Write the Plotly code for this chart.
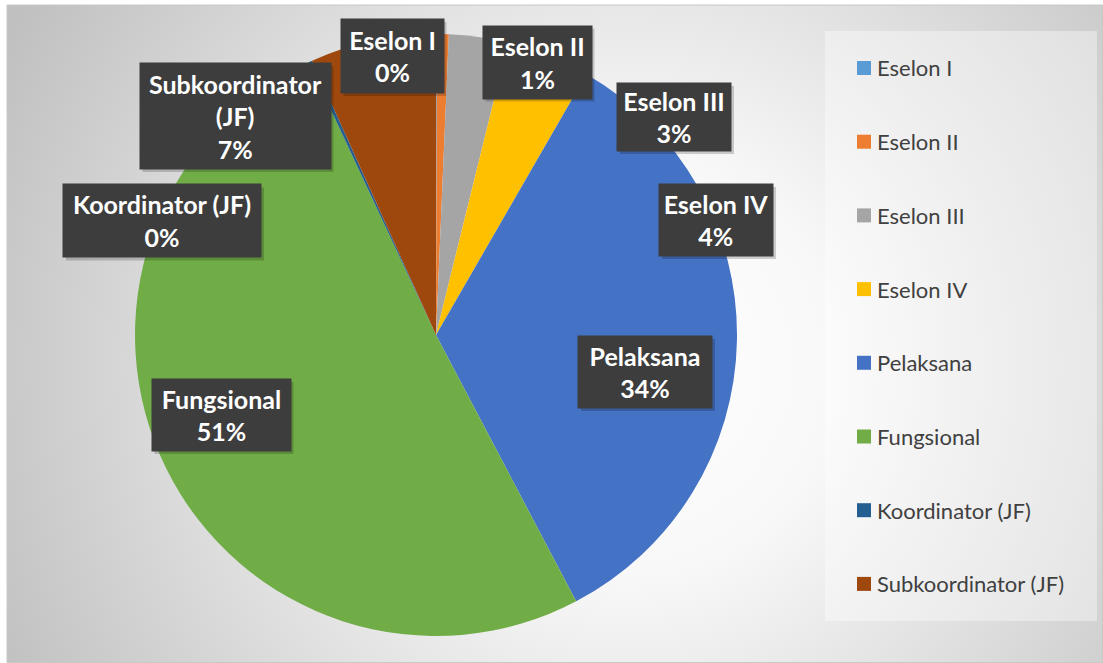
import base64
import plotly.graph_objects as go

# ---------------- data ----------------
categories = ["Eselon I", "Eselon II", "Eselon III", "Eselon IV",
              "Pelaksana", "Fungsional", "Koordinator (JF)", "Subkoordinator (JF)"]
values = [0.05, 0.63, 3.17, 4.48, 33.96, 50.76, 0.20, 6.75]
colors = ["#5B9BD5", "#ED7D31", "#A5A5A5", "#FFC000",
          "#4472C4", "#70AD47", "#255E91", "#9E480E"]

# ---------------- layout constants ----------------
W, H = 1103, 663
def px(x):
    return x / W
def py(y):
    return 1 - y / H

# data label boxes (pixel centres and sizes)
label_cx = [392, 537, 674, 716, 645, 221, 162, 235]
label_cy = [56, 62, 117, 220, 372, 415, 221, 116]
label_w = [103, 109, 114, 114, 134, 139, 198, 191]
label_h = [74, 73, 68, 72, 72, 72, 73, 106]
wrap = {"Subkoordinator (JF)": "Subkoordinator<br>(JF)"}

total = sum(values)

fig = go.Figure(go.Pie(
    labels=categories,
    values=values,
    marker=dict(colors=colors, line=dict(width=0)),
    sort=False,
    direction="clockwise",
    rotation=0,
    textinfo="none",
    showlegend=False,
    hoverinfo="label+percent",
    domain=dict(x=[px(135), px(737)], y=[py(637), py(33)]),
))

# background gradient as svg image
svg = ('<svg xmlns="http://www.w3.org/2000/svg" width="1096" height="658">'
       '<defs><radialGradient id="g" gradientUnits="userSpaceOnUse" cx="620" cy="360" r="700">'
       '<stop offset="0" stop-color="#ffffff"/>'
       '<stop offset="0.3" stop-color="#f8f8f8"/>'
       '<stop offset="1" stop-color="#c0c0c0"/>'
       '</radialGradient></defs>'
       '<rect width="1096" height="658" fill="url(#g)"/></svg>')
src = "data:image/svg+xml;base64," + base64.b64encode(svg.encode()).decode()

shapes = []
annotations = []

# outer border
shapes.append(dict(type="rect", xref="paper", yref="paper",
                   x0=px(7), x1=px(1102.5), y0=py(662.5), y1=py(5),
                   line=dict(color="#c8c8c8", width=1), fillcolor="rgba(0,0,0,0)",
                   layer="below"))
# legend box
shapes.append(dict(type="rect", xref="paper", yref="paper",
                   x0=px(825), x1=px(1097), y0=py(621), y1=py(31),
                   line=dict(width=0), fillcolor="rgba(255,255,255,0.38)",
                   layer="below"))

# legend entries
leg_top, leg_step = 68, 73.7
for i, (name, col) in enumerate(zip(categories, colors)):
    yc = leg_top + i * leg_step
    shapes.append(dict(type="rect", xref="paper", yref="paper",
                       x0=px(857), x1=px(871), y0=py(yc + 7), y1=py(yc - 7),
                       line=dict(width=0), fillcolor=col, layer="above"))
    annotations.append(dict(x=px(876), y=py(yc), xref="paper", yref="paper",
                            xanchor="left", yanchor="middle", showarrow=False,
                            text=name, borderpad=0,
                            font=dict(family="Lato", size=22, color="#404040")))

# data labels
for i, name in enumerate(categories):
    pct = round(values[i] / total * 100)
    txt = f"{wrap.get(name, name)}<br>{pct}%"
    cx, cy, w, h = label_cx[i], label_cy[i], label_w[i], label_h[i]
    shapes.append(dict(type="rect", xref="paper", yref="paper",
                       x0=px(cx - w / 2 + 3), x1=px(cx + w / 2 + 3),
                       y0=py(cy + h / 2 + 3), y1=py(cy - h / 2 + 3),
                       line=dict(width=0), fillcolor="rgba(0,0,0,0.18)", layer="above"))
    annotations.append(dict(x=px(cx), y=py(cy), xref="paper", yref="paper",
                            xanchor="center", yanchor="middle", showarrow=False,
                            text=txt, width=w, height=h, borderpad=0,
                            bgcolor="#3d3d3d", align="center", valign="middle",
                            font=dict(family="Lato", size=25, color="#ffffff", weight="bold")))

fig.update_layout(
    width=W, height=H,
    margin=dict(l=0, r=0, t=0, b=0),
    paper_bgcolor="#ffffff",
    plot_bgcolor="rgba(0,0,0,0)",
    showlegend=False,
    images=[dict(source=src, xref="paper", yref="paper", x=px(7), y=py(5),
                 sizex=px(1096), sizey=658 / H, xanchor="left", yanchor="top",
                 sizing="stretch", layer="below")],
    shapes=shapes,
    annotations=annotations,
)

fig.write_html("out.html", config={"displayModeBar": False},
               post_script="document.body.style.margin='0';")
